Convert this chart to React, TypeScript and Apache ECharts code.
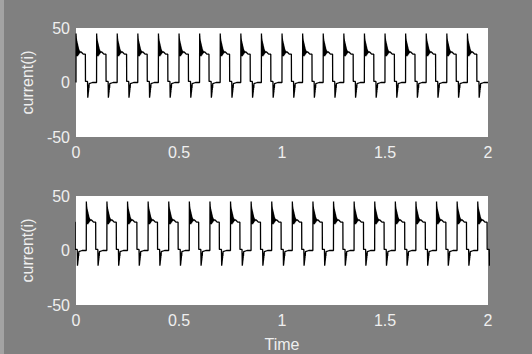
import React, { useEffect, useRef } from "react";
import * as echarts from "echarts";

// Pulse start times (s)
const topPulseStarts = [0, 0.1, 0.2, 0.3, 0.4, 0.5, 0.6, 0.7, 0.8, 0.9, 1.0, 1.1, 1.2, 1.3, 1.4, 1.5, 1.6, 1.7, 1.8, 1.9];
const bottomPulseStarts = [-0.05, 0.05, 0.15, 0.25, 0.35, 0.45, 0.55, 0.65, 0.75, 0.85, 0.95, 1.05, 1.15, 1.25, 1.35, 1.45, 1.55, 1.65, 1.75, 1.85, 1.95];

// One period of the current waveform: offset within period (s)
const shapeTime = [
  0, 0.0003, 0.0006, 0.0009, 0.0012, 0.0015, 0.0018, 0.0021, 0.0024, 0.0027, 0.003,
  0.0033, 0.0036, 0.0039, 0.0042, 0.0045, 0.0048, 0.0051, 0.0054, 0.0057, 0.006,
  0.0063, 0.0066, 0.0069, 0.0072, 0.0075, 0.0078, 0.0081, 0.0084, 0.0087, 0.009,
  0.0093, 0.0096, 0.0099, 0.0102, 0.0105, 0.0108, 0.0111, 0.0114, 0.0117, 0.012,
  0.0125, 0.013, 0.0135, 0.014, 0.0145, 0.015, 0.0155, 0.016, 0.017, 0.018, 0.019,
  0.02, 0.022, 0.025, 0.03, 0.035, 0.04, 0.0455, 0.046, 0.05, 0.056,
  0.0572, 0.0576, 0.058, 0.0584, 0.0588, 0.0592, 0.0596, 0.06, 0.0605, 0.061,
  0.0615, 0.062, 0.063, 0.064, 0.066, 0.08, 0.0998,
];
// current (A) at those offsets
const shapeValue = [
  0, 45, 30, 43, 27, 41, 25, 40, 24, 39, 24,
  38, 24, 38, 25, 37, 24, 37, 25, 36, 24,
  36, 25, 35, 24, 35, 25, 34, 25, 34, 25,
  33, 25, 33, 26, 32, 25, 32, 26, 31, 26,
  31, 26, 30, 26, 30, 27, 29, 27, 29, 27, 28,
  28, 28, 28, 27, 26, 26, 26, 1, 1, 1,
  -14, -3, -13, -4, -12, -4, -10, -3, -9, -3,
  -7, -2, -5, -1, -1, 0, 0,
];

const yTicks = [-50, 0, 50];
const xTicks = [0, 0.5, 1, 1.5, 2];

function buildSeries(starts: number[]) {
  const out: [number, number][] = [];
  starts.forEach((s) => {
    shapeTime.forEach((t, i) => {
      out.push([+(s + t).toFixed(5), shapeValue[i]]);
    });
  });
  return out;
}

const FONT = "'Liberation Sans', Arial, sans-serif";
const TXT = "#efefef";
const FS = 16;

export default function App() {
  const ref = useRef<HTMLDivElement>(null);
  useEffect(() => {
    document.body.style.margin = "0";
    const chart = echarts.init(ref.current!, null, { renderer: "svg" });
    const grids = [
      { left: 76, top: 28, width: 412, height: 109 },
      { left: 76, top: 196, width: 412, height: 109 },
    ];
    const xAxisBase = (gi: number) => ({
      type: "value" as const,
      gridIndex: gi,
      min: xTicks[0],
      max: xTicks[xTicks.length - 1],
      interval: 0.5,
      axisLine: { show: false },
      axisTick: { show: false },
      splitLine: { show: false },
      axisLabel: { color: TXT, fontSize: FS, fontFamily: FONT, margin: 7 },
    });
    const yAxisBase = (gi: number) => ({
      type: "value" as const,
      gridIndex: gi,
      min: yTicks[0],
      max: yTicks[yTicks.length - 1],
      interval: 50,
      axisLine: { show: false },
      axisTick: { show: false },
      splitLine: { show: false },
      axisLabel: { color: TXT, fontSize: FS, fontFamily: FONT, margin: 6 },
      name: "current(i)",
      nameLocation: "middle" as const,
      nameGap: 34,
      nameTextStyle: { color: TXT, fontSize: FS, fontFamily: FONT },
    });
    chart.setOption({
      animation: false,
      backgroundColor: "#808080",
      graphic: [
        { type: "rect", left: 0, top: 0, shape: { width: 4, height: 354 }, style: { fill: "#a3a3a3" } },
      ],
      grid: grids.map((g) => ({ ...g, show: true, backgroundColor: "#ffffff", borderWidth: 0 })),
      xAxis: [
        xAxisBase(0),
        {
          ...xAxisBase(1),
          name: "Time",
          nameLocation: "middle",
          nameGap: 31,
          nameTextStyle: { color: TXT, fontSize: FS, fontFamily: FONT },
        },
      ],
      yAxis: [yAxisBase(0), yAxisBase(1)],
      series: [
        {
          type: "line",
          xAxisIndex: 0,
          yAxisIndex: 0,
          data: buildSeries(topPulseStarts),
          showSymbol: false,
          lineStyle: { color: "#000", width: 1.3 },
          itemStyle: { color: "#000" },
          clip: true,
        },
        {
          type: "line",
          xAxisIndex: 1,
          yAxisIndex: 1,
          data: buildSeries(bottomPulseStarts),
          showSymbol: false,
          lineStyle: { color: "#000", width: 1.3 },
          itemStyle: { color: "#000" },
          clip: true,
        },
      ],
    });
    return () => chart.dispose();
  }, []);
  return <div ref={ref} style={{ position: "fixed", left: 0, top: 0, width: 532, height: 354 }} />;
}
